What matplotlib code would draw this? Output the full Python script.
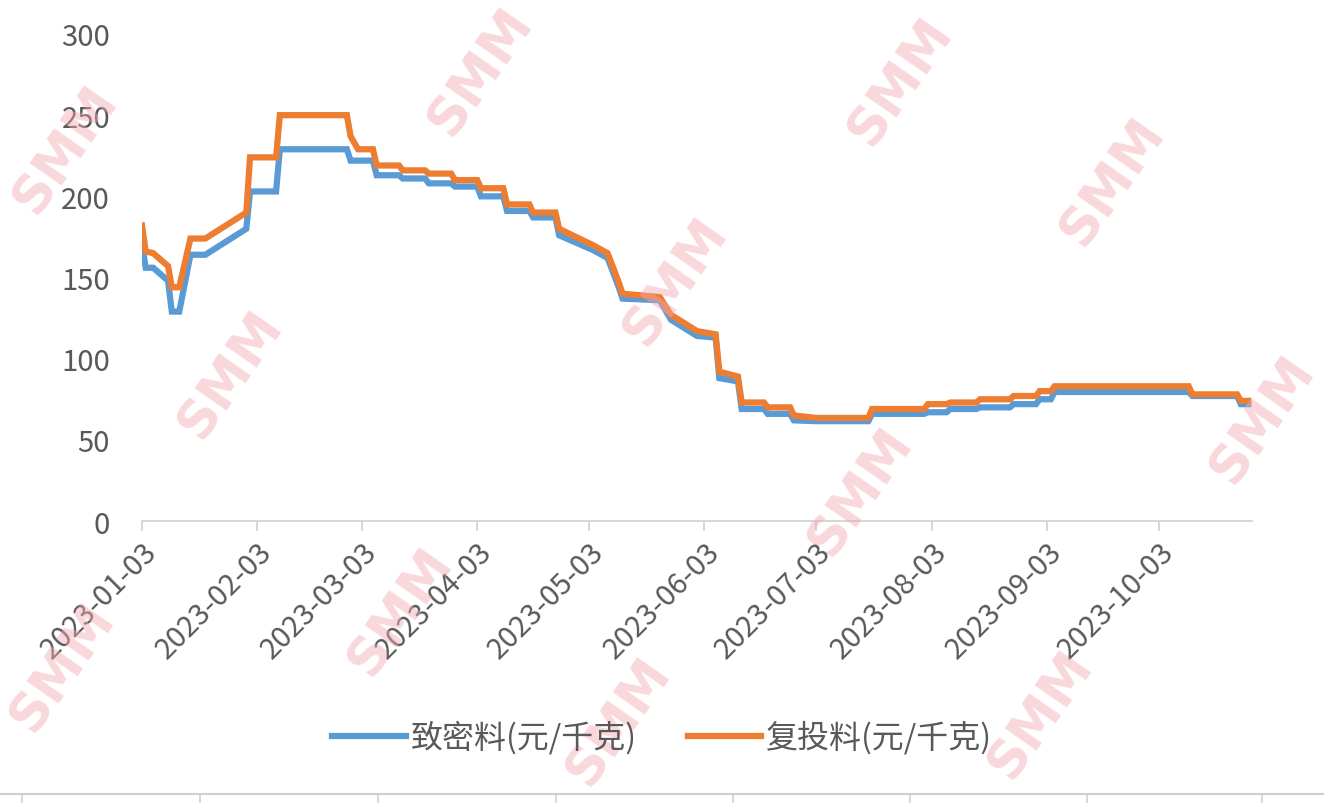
import matplotlib
matplotlib.use('Agg')
import matplotlib.pyplot as plt
import matplotlib.dates as mdates
import numpy as np
import pandas as pd

plt.rcParams['font.family'] = ['Noto Sans CJK SC', 'DejaVu Sans']

# ── 数据 ───────────────────────────────────────────────────────
dates = [
    '2023-01-03', '2023-01-04', '2023-01-06', '2023-01-10', '2023-01-11',
    '2023-01-13', '2023-01-16', '2023-01-20', '2023-01-31', '2023-02-01',
    '2023-02-08', '2023-02-09', '2023-02-27', '2023-02-28', '2023-03-02',
    '2023-03-06', '2023-03-07', '2023-03-13', '2023-03-14', '2023-03-20',
    '2023-03-21', '2023-03-27', '2023-03-28', '2023-04-03', '2023-04-04',
    '2023-04-10', '2023-04-11', '2023-04-17', '2023-04-18', '2023-04-24',
    '2023-04-25', '2023-05-04', '2023-05-08', '2023-05-11', '2023-05-12',
    '2023-05-22', '2023-05-25', '2023-06-01', '2023-06-06', '2023-06-07',
    '2023-06-12', '2023-06-13', '2023-06-19', '2023-06-20', '2023-06-26',
    '2023-06-27', '2023-07-03', '2023-07-17', '2023-07-18', '2023-08-01',
    '2023-08-02', '2023-08-07', '2023-08-08', '2023-08-15', '2023-08-16',
    '2023-08-24', '2023-08-25', '2023-08-31', '2023-09-01', '2023-09-04',
    '2023-09-05', '2023-10-11', '2023-10-12', '2023-10-24', '2023-10-25',
    '2023-10-27',
]
dense = [  # 致密料(元/千克)
    170, 156, 156, 148, 129,
    129, 164, 164, 180, 203,
    203, 229, 229, 222, 222,
    222, 213, 213, 211, 211,
    208, 208, 206, 206, 200,
    200, 191, 191, 187, 187,
    176, 167, 162, 144, 137,
    136, 124, 114, 113, 88,
    86, 69, 69, 66, 66,
    62, 61.5, 61.5, 66, 66,
    67, 67, 69, 69, 70,
    70, 72, 72, 75, 75,
    79.5, 79.5, 77, 77, 72,
    72,
]
recharge = [  # 复投料(元/千克)
    182, 166, 165, 157, 144,
    144, 174, 174, 190, 224,
    224, 250, 250, 237, 229,
    229, 219, 219, 216, 216,
    214, 214, 210, 210, 205,
    205, 195, 195, 190, 190,
    180, 170, 165, 147, 140,
    138, 127, 117, 115, 92,
    89, 73, 73, 70, 70,
    65, 63.5, 63.5, 69, 69,
    72, 72, 73, 73, 75,
    75, 77, 77, 80, 80,
    83, 83, 78, 78, 74,
    74,
]
series_names = ['致密料(元/千克)', '复投料(元/千克)']
series_colors = ['#5B9BD5', '#ED7D31']
yticks = [0, 50, 100, 150, 200, 250, 300]
xtick_labels = ['2023-01-03', '2023-02-03', '2023-03-03', '2023-04-03', '2023-05-03',
                '2023-06-03', '2023-07-03', '2023-08-03', '2023-09-03', '2023-10-03']

# 水印位置 (像素)
wm_pos = [(65, 150), (480, 72), (900, 82), (1112, 182), (230, 375), (675, 282),
          (860, 492), (400, 612), (1262, 420), (62, 668), (1040, 715), (618, 722)]

x = pd.to_datetime(dates)

fig = plt.figure(figsize=(13.24, 8.04), dpi=100)
ax = fig.add_axes([142 / 1324, 1 - 522 / 804, (1252 - 142) / 1324, (522 - 35) / 804])

# 水印
for px, py in wm_pos:
    fig.text(px / 1324, 1 - py / 804, 'SMM', color='#f2a9b2', alpha=0.45,
             fontsize=38, fontweight='bold', rotation=55, ha='center', va='center',
             family='DejaVu Sans', zorder=0)

ax.plot(x, dense, color=series_colors[0], lw=4.5, label=series_names[0],
        solid_joinstyle='miter', zorder=3)
ax.plot(x, recharge, color=series_colors[1], lw=4.5, label=series_names[1],
        solid_joinstyle='miter', zorder=4)

ax.set_ylim(0, 300)
ax.set_yticks(yticks)
ax.set_xlim(pd.Timestamp('2023-01-03'), pd.Timestamp('2023-10-28'))
ax.set_xticks(pd.to_datetime(xtick_labels))
ax.xaxis.set_major_formatter(mdates.DateFormatter('%Y-%m-%d'))
ax.patch.set_alpha(0)

for s in ['top', 'right', 'left']:
    ax.spines[s].set_visible(False)
ax.spines['bottom'].set_color('#d0d0d0')
ax.spines['bottom'].set_linewidth(1.2)
ax.tick_params(axis='y', length=0, pad=23, labelsize=21, labelcolor='#595959')
ax.tick_params(axis='x', length=7, color='#d0d0d0', width=1.2, labelsize=21,
               labelcolor='#595959', pad=4)
for lab in ax.get_xticklabels():
    lab.set_rotation(45)
    lab.set_ha('right')
    lab.set_rotation_mode('anchor')

leg = fig.legend(loc='center', bbox_to_anchor=(662 / 1324, 1 - 738 / 804), ncol=2,
                 frameon=False, fontsize=23, handlelength=2.3, handletextpad=0.15,
                 columnspacing=1.6)
for t in leg.get_texts():
    t.set_color('#595959')

# 底部表格边框线
fig.add_artist(plt.Line2D([0, 1], [1 - 795 / 804] * 2, color='#cfcfcf', lw=1.5))
for px in [22, 200, 378, 556, 733, 910, 1087, 1262]:
    fig.add_artist(plt.Line2D([px / 1324] * 2, [0, 1 - 795 / 804], color='#cfcfcf', lw=1.2))

fig.savefig('out.png', dpi=100)
